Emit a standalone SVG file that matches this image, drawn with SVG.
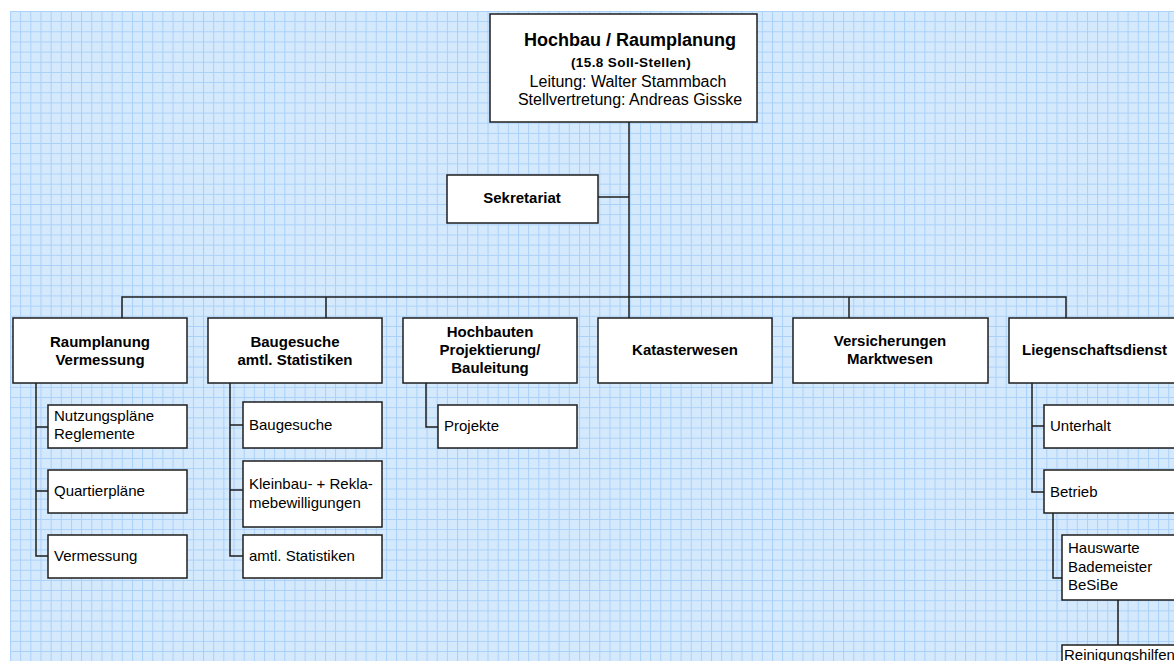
<svg xmlns="http://www.w3.org/2000/svg" width="1174" height="661" viewBox="0 0 1174 661">
<style>
.box{fill:#ffffff;stroke:#1e1e1e;stroke-width:1.5}
.con{fill:none;stroke:#1e1e1e;stroke-width:1.5}
.b{font-family:"Liberation Sans",Arial,sans-serif;font-weight:bold;font-size:15px;fill:#000;text-anchor:middle}
.r{font-family:"Liberation Sans",Arial,sans-serif;font-size:15px;fill:#000}
</style>
<defs>
<pattern id="grid" x="10" y="11" width="10.16" height="10.16" patternUnits="userSpaceOnUse">
<rect width="10.16" height="10.16" fill="#d5e9fd"/>
<path d="M0 0.5H10.16M0.5 0V10.16" stroke="#a9d0f8" stroke-width="1"/>
</pattern>
</defs>
<rect width="1174" height="661" fill="#ffffff"/>
<rect x="10" y="11" width="1164" height="650" fill="url(#grid)"/>

<g id="connectors">
<path class="con" d="M629 122V318"/>
<path class="con" d="M598 197H629"/>
<path class="con" d="M122 318V297H1066V318"/>
<path class="con" d="M326 297V318"/>
<path class="con" d="M849 297V318"/>
<path class="con" d="M36 383V556H48M36 427H48M36 491H48"/>
<path class="con" d="M230 383V556H243M230 425H243M230 490H243"/>
<path class="con" d="M426 383V427H438"/>
<path class="con" d="M1032 383V492H1044M1032 426H1044"/>
<path class="con" d="M1053 513V578H1062"/>
<path class="con" d="M1118 600V645"/>
</g>

<g id="n-top">
<rect class="box" x="490" y="14" width="267" height="108"/>
<text class="b" x="630" y="46" style="font-size:18px">Hochbau / Raumplanung</text>
<text class="b" x="631" y="67" style="font-size:13.5px;letter-spacing:0.4px">(15.8 Soll-Stellen)</text>
<text class="r" x="628" y="87" style="font-size:16px;text-anchor:middle">Leitung: Walter Stammbach</text>
<text class="r" x="630" y="105" style="font-size:16px;text-anchor:middle">Stellvertretung: Andreas Gisske</text>
</g>

<g id="n-sekretariat">
<rect class="box" x="447" y="175" width="151" height="48"/>
<text class="b" x="522" y="203">Sekretariat</text>
</g>

<g id="n-raumplanung">
<rect class="box" x="13" y="318" width="174" height="65"/>
<text class="b" x="100" y="347">Raumplanung</text>
<text class="b" x="100" y="365">Vermessung</text>
</g>
<g id="n-baugesuche">
<rect class="box" x="208" y="318" width="174" height="65"/>
<text class="b" x="295" y="347">Baugesuche</text>
<text class="b" x="295" y="365">amtl. Statistiken</text>
</g>
<g id="n-hochbauten">
<rect class="box" x="403" y="318" width="174" height="65"/>
<text class="b" x="490" y="337">Hochbauten</text>
<text class="b" x="490" y="355">Projektierung/</text>
<text class="b" x="490" y="373">Bauleitung</text>
</g>
<g id="n-kataster">
<rect class="box" x="598" y="318" width="174" height="65"/>
<text class="b" x="685" y="355">Katasterwesen</text>
</g>
<g id="n-versicherungen">
<rect class="box" x="793" y="318" width="195" height="65"/>
<text class="b" x="890" y="346">Versicherungen</text>
<text class="b" x="890" y="364">Marktwesen</text>
</g>
<g id="n-liegenschaften">
<rect class="box" x="1009" y="318" width="180" height="65"/>
<text class="b" x="1022" y="355" style="text-anchor:start">Liegenschaftsdienst</text>
</g>

<g id="n-nutzung">
<rect class="box" x="48" y="405" width="139" height="43"/>
<text class="r" x="54" y="421">Nutzungspläne</text>
<text class="r" x="54" y="439">Reglemente</text>
</g>
<g id="n-quartier">
<rect class="box" x="48" y="470" width="139" height="43"/>
<text class="r" x="54" y="496">Quartierpläne</text>
</g>
<g id="n-vermessung">
<rect class="box" x="48" y="535" width="139" height="43"/>
<text class="r" x="54" y="561">Vermessung</text>
</g>

<g id="n-baugesuche2">
<rect class="box" x="243" y="402" width="139" height="46"/>
<text class="r" x="249" y="430">Baugesuche</text>
</g>
<g id="n-kleinbau">
<rect class="box" x="243" y="461" width="139" height="66"/>
<text class="r" x="249" y="489">Kleinbau- + Rekla-</text>
<text class="r" x="249" y="508">mebewilligungen</text>
</g>
<g id="n-statistiken">
<rect class="box" x="243" y="535" width="139" height="43"/>
<text class="r" x="249" y="561">amtl. Statistiken</text>
</g>

<g id="n-projekte">
<rect class="box" x="438" y="405" width="139" height="43"/>
<text class="r" x="444" y="431">Projekte</text>
</g>

<g id="n-unterhalt">
<rect class="box" x="1044" y="405" width="145" height="43"/>
<text class="r" x="1050" y="431">Unterhalt</text>
</g>
<g id="n-betrieb">
<rect class="box" x="1044" y="470" width="145" height="43"/>
<text class="r" x="1050" y="497">Betrieb</text>
</g>
<g id="n-hauswarte">
<rect class="box" x="1062" y="535" width="127" height="65"/>
<text class="r" x="1068" y="553">Hauswarte</text>
<text class="r" x="1068" y="572">Bademeister</text>
<text class="r" x="1068" y="590">BeSiBe</text>
</g>
<g id="n-reinigung">
<rect class="box" x="1062" y="645" width="127" height="30"/>
<text class="r" x="1064" y="660">Reinigungshilfen</text>
</g>
</svg>
